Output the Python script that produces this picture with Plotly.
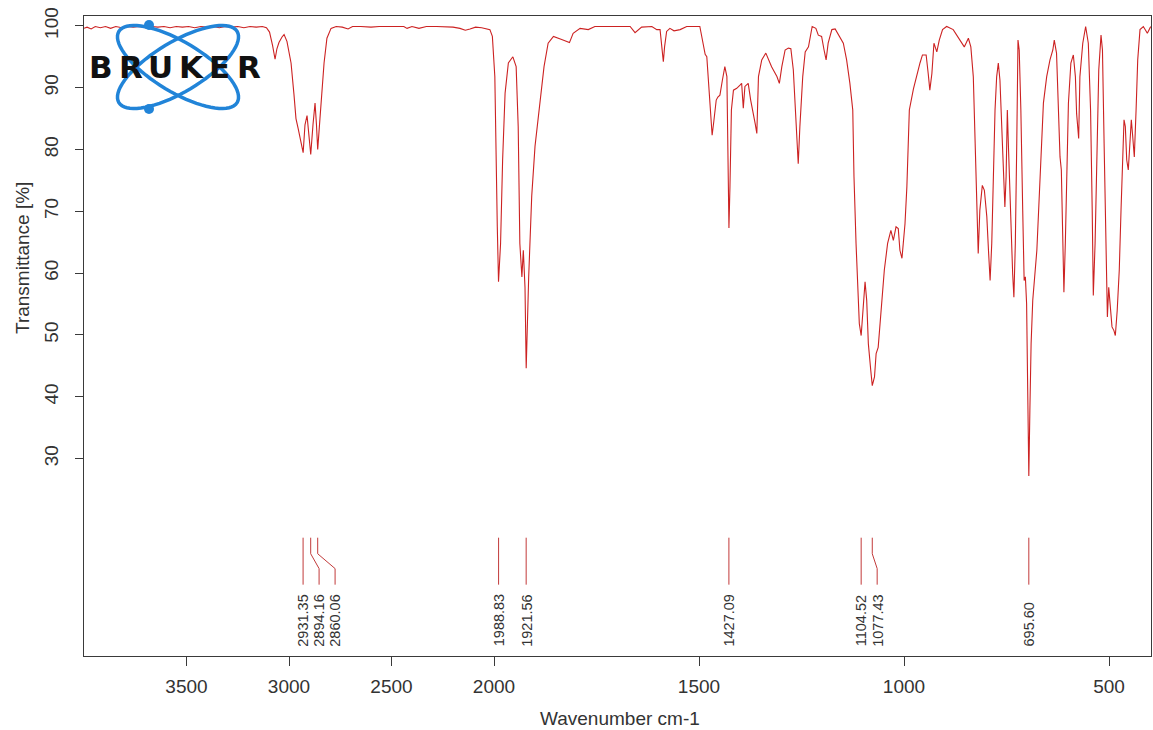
import numpy as np
import plotly.graph_objects as go

# ---------------- spectrum data (wavenumber in cm-1, transmittance in %) ----------------
wavenumber = [
    4000, 3985, 3965, 3945, 3920, 3895, 3870, 3845, 3815, 3790, 3760, 3730, 3700, 3670,
    3640, 3610, 3580, 3550, 3520, 3490, 3460, 3430, 3400, 3370, 3340, 3310, 3280, 3250,
    3220, 3190, 3160, 3130, 3110, 3095, 3080, 3068, 3059, 3049, 3034, 3024, 3010, 2990,
    2976, 2966, 2956, 2941, 2931, 2922, 2912, 2902, 2894, 2883, 2873, 2866, 2860, 2849,
    2839, 2829, 2815, 2795, 2770, 2740, 2712, 2690, 2650, 2600, 2560, 2520, 2480, 2440,
    2424, 2400, 2366, 2330, 2280, 2240, 2200, 2166, 2140, 2117, 2090, 2060, 2040, 2020,
    2008, 1998, 1992, 1989, 1984, 1979, 1973, 1965, 1954, 1946, 1941, 1937, 1932, 1928.5,
    1924.4, 1921.5, 1915.4, 1908, 1900, 1888, 1878, 1868, 1855, 1835, 1816, 1807, 1790,
    1770, 1754, 1700, 1668, 1656, 1640, 1615, 1603, 1595, 1590, 1587, 1584, 1579, 1571,
    1561, 1546, 1530, 1498, 1491, 1485, 1481, 1476, 1471, 1468, 1464, 1458, 1454, 1449,
    1443, 1437, 1432, 1429.5, 1427, 1424.5, 1421, 1416, 1408, 1400, 1396, 1392, 1388,
    1380, 1374, 1363, 1359, 1355, 1347, 1337, 1323, 1310, 1304, 1298, 1290, 1282, 1276,
    1270, 1264, 1260, 1258, 1254, 1247, 1241, 1233, 1224, 1215, 1209, 1201, 1195, 1190,
    1185, 1176, 1168, 1158, 1148, 1140, 1132, 1125, 1122, 1117, 1113, 1109, 1104.5, 1099,
    1095, 1091, 1087, 1081, 1077.4, 1072, 1068, 1063, 1056, 1048, 1040, 1032, 1026,
    1019.5, 1014, 1010, 1005, 1001, 997.6, 993, 987, 977, 969, 961, 955, 946, 941, 937,
    932, 927, 920, 914, 906, 896, 880, 863, 853, 843, 837, 831, 827, 823, 819, 815, 809,
    804, 798, 794, 790, 786, 782, 778, 774, 770, 766, 762, 758, 754, 751, 748, 745, 740,
    735, 732, 728.5, 725, 722, 719, 715, 710.5, 707, 704, 701, 698.5, 695.6, 693, 690,
    686, 683, 676, 668, 660, 652, 644, 637, 633.5, 628, 623, 619.5, 616.3, 613, 610,
    606.6, 603, 599, 593, 587, 582, 579, 574, 571, 564, 557, 550.5, 545, 541, 538.3, 534,
    530, 525, 519.5, 516, 512, 507, 504, 500.7, 497.6, 492.7, 488, 484.6, 480, 475, 470.7,
    466.6, 463.4, 460.2, 456.8, 453, 449, 445.6, 442.2, 438.3, 434, 430, 424.4, 416.3,
    406.5, 398.3,
]
transmittance = [
    99.6, 99.8, 99.5, 99.9, 99.7, 99.9, 99.6, 99.9, 99.7, 99.9, 99.8, 99.9, 99.7, 99.9,
    99.8, 99.9, 99.7, 99.9, 99.8, 99.9, 99.7, 99.9, 99.8, 99.9, 99.7, 99.9, 99.8, 99.9,
    99.7, 99.9, 99.8, 99.9, 99.7, 99.0, 96.8, 94.6, 96.3, 97.3, 98.2, 98.6, 97.5, 94.0,
    89.0, 85.0, 83.5, 81.0, 79.5, 84.0, 85.5, 82.0, 79.2, 84.0, 87.5, 84.0, 80.0, 85.0,
    89.0, 94.0, 98.0, 99.6, 99.9, 99.8, 99.5, 99.9, 99.9, 99.8, 99.9, 99.9, 99.8, 99.9,
    99.6, 99.9, 99.6, 99.9, 99.9, 99.9, 99.8, 99.6, 99.3, 99.5, 99.8, 99.7, 99.6, 99.4,
    98.3, 91.8, 67.5, 58.6, 64.8, 78.3, 89.1, 94.0, 95.0, 93.4, 83.7, 64.8, 59.4, 63.7,
    57.7, 44.6, 59.4, 72.5, 80.5, 88.0, 93.4, 97.2, 98.3, 97.8, 97.3, 98.8, 99.6,
    99.4, 99.9, 99.9, 99.9, 98.9, 99.8, 99.9, 99.4, 99.4, 96.5, 94.2, 96.6, 99.1, 99.6,
    99.2, 99.4, 99.9, 99.9, 97.7, 95.4, 95.0, 90.0, 84.2, 82.3, 84.5, 88.0, 88.5, 88.8,
    91.2, 93.4, 91.8, 80.0, 67.3, 74.0, 86.4, 89.6, 89.9, 90.4, 90.7, 86.7, 90.2,
    90.7, 88.0, 84.2, 82.6, 91.8, 94.5, 95.6, 93.4, 91.8, 90.7, 93.4, 96.1, 96.4, 96.3,
    92.9, 84.8, 79.4, 77.7, 83.7, 91.8, 95.8, 96.6, 99.9, 99.6, 98.5, 98.3, 96.1, 94.5,
    97.2, 99.4, 99.5, 98.3, 97.2, 94.5, 90.7, 86.4, 75.6, 64.8, 57.7, 51.8, 49.9, 55.6,
    58.6, 55.6, 48.6, 44.2, 41.8, 43.2, 47.0, 48.0, 54.0, 60.5, 64.8, 66.9, 65.3,
    67.5, 67.2, 63.7, 62.4, 65.5, 68.0, 74.0, 86.4, 89.8, 92.0, 94.0, 95.3, 95.3, 92.3, 89.6,
    92.3, 97.2, 95.8, 97.7, 99.4, 99.9, 99.4, 97.7, 96.6, 98.0, 96.6, 91.8, 81.0, 70.2, 63.2, 70.2, 74.2,
    73.4, 69.1, 63.7, 58.8, 64.8, 75.6, 86.4, 91.8, 94.0, 91.2, 84.8, 77.2, 70.7, 75.6, 86.4, 79.9, 69.1,
    59.9, 56.1, 64.8, 81.0, 97.7, 96.1, 86.4, 70.2, 58.8, 59.4, 55.1, 42.0, 27.2, 37.8, 48.6,
    55.6, 58.0, 63.7, 75.6, 87.5, 91.8, 94.5, 96.1, 97.7, 95.6, 86.4, 78.8, 76.7, 64.8, 56.9,
    64.8, 78.3, 87.5, 94.0, 95.3, 91.8, 85.8, 81.8, 91.8, 97.2, 99.9, 97.2, 86.4, 70.2, 56.4, 64.8,
    78.3, 92.9, 98.5, 96.1, 81.0, 64.8, 52.9, 57.7, 55.6, 51.3, 50.7, 49.9, 54.0, 60.5, 70.2,
    79.9, 84.8, 83.7, 78.3, 76.7, 81.0, 84.8, 82.1, 78.8, 86.4, 94.5, 99.4, 99.9,
    98.8, 99.9,
]

# picked peaks
peak_positions = [2931.35, 2894.16, 2860.06, 1988.83, 1921.56, 1427.09, 1104.52, 1077.43, 695.60]

x_tick_values = [3500, 3000, 2500, 2000, 1500, 1000, 500]
y_tick_values = [30, 40, 50, 60, 70, 80, 90, 100]

# ---------------- layout geometry ----------------
FIG_W, FIG_H = 1153, 730
M_L, M_R, M_T, M_B = 84, 2, 16, 74
PLOT_W = FIG_W - M_L - M_R
PLOT_H = FIG_H - M_T - M_B

# OPUS-style abscissa: the region above 2000 cm-1 is drawn at half scale
SPLIT = 2000.0
HIGH_FACTOR = 2.0


def squeeze(w):
    w = np.asarray(w, dtype=float)
    return np.where(w > SPLIT, SPLIT + (w - SPLIT) / HIGH_FACTOR, w)


X_RANGE = [float(squeeze(4000.0)), float(squeeze(397.6))]
Y_RANGE = [-1.94, 101.6]

LINE_RED = "#cc2222"
PEAK_RED = "#c23a3a"
AXIS_COL = "#3a3a3a"
TEXT_COL = "#333333"
FONT = "Liberation Sans, Arial, Helvetica, sans-serif"

fig = go.Figure()

fig.add_trace(go.Scatter(
    x=squeeze(wavenumber), y=transmittance, mode="lines",
    line=dict(color=LINE_RED, width=1.1), hoverinfo="skip", showlegend=False,
))

# ---------------- peak markers with spread labels ----------------
px_per_unit = PLOT_W / abs(X_RANGE[0] - X_RANGE[1])
LABEL_GAP = 16.0 / px_per_unit          # minimum label spacing, in axis units
MARK_TOP, MARK_KNEE, MARK_BEND, MARK_BOTTOM = 17.2, 14.6, 12.2, 9.6
LABEL_BASE = -0.75

peak_u = squeeze(peak_positions)
order = np.argsort(-peak_u)
label_u = np.empty_like(peak_u)
prev = None
for i in order:
    pos = peak_u[i] if prev is None else min(peak_u[i], prev - LABEL_GAP)
    label_u[i] = pos
    prev = pos

mx, my = [], []
for pu, lu in zip(peak_u, label_u):
    mx += [pu, pu, lu, lu, None]
    my += [MARK_TOP, MARK_KNEE, MARK_BEND, MARK_BOTTOM, None]
fig.add_trace(go.Scatter(x=mx, y=my, mode="lines", line=dict(color=PEAK_RED, width=1),
                         hoverinfo="skip", showlegend=False))

annotations = []
for p, lu in zip(peak_positions, label_u):
    annotations.append(dict(
        x=float(lu), y=LABEL_BASE, xref="x", yref="y", text=f"{p:.2f}",
        showarrow=False, textangle=-90, xanchor="center", yanchor="bottom",
        font=dict(family=FONT, size=14.5, color=TEXT_COL),
    ))


# ---------------- pixel -> paper helpers for decorations ----------------
def paper_x(px):
    return (px - M_L) / PLOT_W


def paper_y(py):
    return (FIG_H - M_B - py) / PLOT_H


# axis titles
annotations.append(dict(
    x=paper_x(620), y=paper_y(718), xref="paper", yref="paper", text="Wavenumber cm-1",
    showarrow=False, xanchor="center", yanchor="middle",
    font=dict(family=FONT, size=19, color=TEXT_COL),
))
annotations.append(dict(
    x=paper_x(22), y=paper_y(258), xref="paper", yref="paper", text="Transmittance [%]",
    showarrow=False, textangle=-90, xanchor="center", yanchor="middle",
    font=dict(family=FONT, size=19, color=TEXT_COL),
))

# ---------------- BRUKER logo ----------------
LOGO_BLUE = "#2184d8"
shapes = []


def ellipse_path(cx, cy, a, b, theta_deg, n=72):
    th = np.deg2rad(theta_deg)
    t = np.linspace(0, 2 * np.pi, n, endpoint=False)
    xs = cx + a * np.cos(t) * np.cos(th) - b * np.sin(t) * np.sin(th)
    ys = cy + a * np.cos(t) * np.sin(th) + b * np.sin(t) * np.cos(th)
    pts = [f"{paper_x(x):.5f},{paper_y(y):.5f}" for x, y in zip(xs, ys)]
    return "M " + " L ".join(pts) + " Z"


for ang in (31, -31):
    shapes.append(dict(type="path", xref="paper", yref="paper",
                       path=ellipse_path(178, 67, 69, 25, ang),
                       line=dict(color=LOGO_BLUE, width=3.5)))
for (dx, dy) in ((149, 25), (149, 109)):
    r = 5
    shapes.append(dict(type="circle", xref="paper", yref="paper",
                       x0=paper_x(dx - r), x1=paper_x(dx + r),
                       y0=paper_y(dy + r), y1=paper_y(dy - r),
                       fillcolor=LOGO_BLUE, line=dict(color=LOGO_BLUE, width=0)))

for ch, cx in zip("BRUKER", [101, 130.5, 160, 191, 219.5, 249]):
    annotations.append(dict(
        x=paper_x(cx), y=paper_y(67), xref="paper", yref="paper", text=f"<b>{ch}</b>",
        showarrow=False, xanchor="center", yanchor="middle",
        font=dict(family="DejaVu Sans, Liberation Sans, sans-serif", size=31, color="#111111"),
    ))

fig.update_layout(
    width=FIG_W, height=FIG_H,
    margin=dict(l=M_L, r=M_R, t=M_T, b=M_B, pad=0),
    paper_bgcolor="white", plot_bgcolor="white",
    showlegend=False,
    annotations=annotations, shapes=shapes,
    xaxis=dict(
        range=X_RANGE, tickmode="array",
        tickvals=squeeze(x_tick_values), ticktext=[str(v) for v in x_tick_values],
        showgrid=False, zeroline=False, showline=True, mirror=True,
        linecolor=AXIS_COL, linewidth=1, ticks="outside", ticklen=9, tickcolor=AXIS_COL,
        ticklabelstandoff=4,
        tickfont=dict(family=FONT, size=19, color=TEXT_COL),
    ),
    yaxis=dict(
        range=Y_RANGE, tickmode="array", tickvals=y_tick_values,
        showgrid=False, zeroline=False, showline=True, mirror=True,
        linecolor=AXIS_COL, linewidth=1, ticks="outside", ticklen=8, tickcolor=AXIS_COL,
        ticklabelstandoff=9,
        tickangle=-90, tickfont=dict(family=FONT, size=19, color=TEXT_COL),
    ),
)

fig.write_html("out.html")
